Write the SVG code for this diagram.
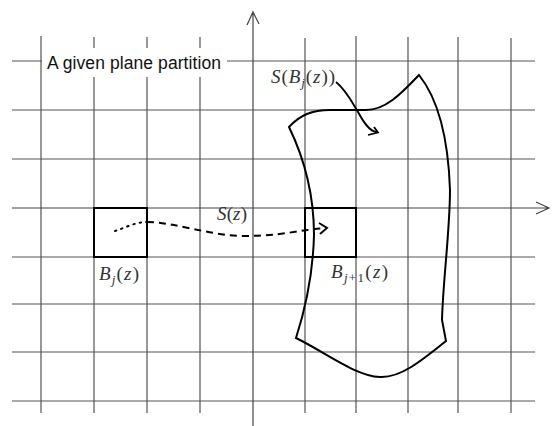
<svg xmlns="http://www.w3.org/2000/svg" width="553" height="426" viewBox="0 0 553 426">
<style>
.g{stroke:#555;stroke-width:1.2;fill:none}
.ax{stroke:#444;stroke-width:1.2;fill:none}
.k{stroke:#000;stroke-width:2;fill:none;stroke-linejoin:miter}
.m{font-family:"Liberation Serif","Times New Roman",serif;font-size:19px;fill:#333}
.i{font-style:italic}
.s{font-size:13px}
.lab{font-family:"Liberation Sans",Arial,sans-serif;font-size:17.5px;fill:#111}
</style>
<rect width="553" height="426" fill="#fff"/>
<g id="grid">
<path class="g" d="M12,61H535M12,110H535M12,159H535M12,257H535M12,304H535M12,352H535M12,401H535"/>
<path class="g" d="M41,36V413M94,37V413M147,37V413M200,37V413M305,38V413M356,36V413M408,37V413M458,37V413M511,38V413"/>
</g>
<g id="axes">
<path class="ax" d="M12,208H548M536,202L549,208L536,214"/>
<path class="ax" d="M253,12V426M247,25L253,12L259,24"/>
</g>
<g id="label">
<rect x="42" y="48" width="185" height="29" fill="#fff"/>
<text class="lab" x="47" y="68.5" textLength="174">A given plane partition</text>
</g>
<g id="region">
<path class="k" d="M289,127 C300,115 312,110 330,110 L366,110 C385,110 400,95 419,75 C435,95 448,130 450,190 C450,230 443,280 442,320 L446,341 C420,362 400,378 380,377 C355,376 325,352 296,338 C305,310 313,275 314,235 C314,195 305,160 289,127 Z"/>
<text class="m" x="271" y="83" textLength="64"><tspan class="i">S</tspan>(<tspan class="i">B</tspan><tspan class="i s" dy="4">j</tspan><tspan dy="-4">(</tspan><tspan class="i">z</tspan>))</text>
</g>
<g id="box1">
<rect class="k" x="94" y="208" width="53" height="49"/>
<text class="m" x="99" y="280" textLength="40"><tspan class="i">B</tspan><tspan class="i s" dy="4">j</tspan><tspan dy="-4">(</tspan><tspan class="i">z</tspan>)</text>
</g>
<g id="box2">
<rect class="k" x="305" y="208" width="51" height="49"/>
<text class="m" x="331" y="278" textLength="57"><tspan class="i">B</tspan><tspan class="s" dy="4"><tspan class="i">j</tspan>+1</tspan><tspan dy="-4">(</tspan><tspan class="i">z</tspan>)</text>
</g>
<g id="connectors">
<path d="M115,231 C125,228 135,222 147,222" stroke="#000" stroke-width="2" fill="none" stroke-dasharray="1.5 5" stroke-linecap="round"/>
<path d="M147,222 C175,222 210,236 245,236 C280,236 300,230 325,228" stroke="#000" stroke-width="2" fill="none" stroke-dasharray="7 5"/>
<path d="M319,223 L327,228 L320,234" stroke="#000" stroke-width="2" fill="none"/>
<path d="M336,82 C346,90 352,102 358,112 C364,123 370,132 377,132" stroke="#000" stroke-width="1.8" fill="none"/>
<path d="M374,127 L378,132.5 L368,135" stroke="#000" stroke-width="1.8" fill="none"/>
<text class="m" x="217" y="220" textLength="30"><tspan class="i">S</tspan>(<tspan class="i">z</tspan>)</text>
</g>
</svg>
